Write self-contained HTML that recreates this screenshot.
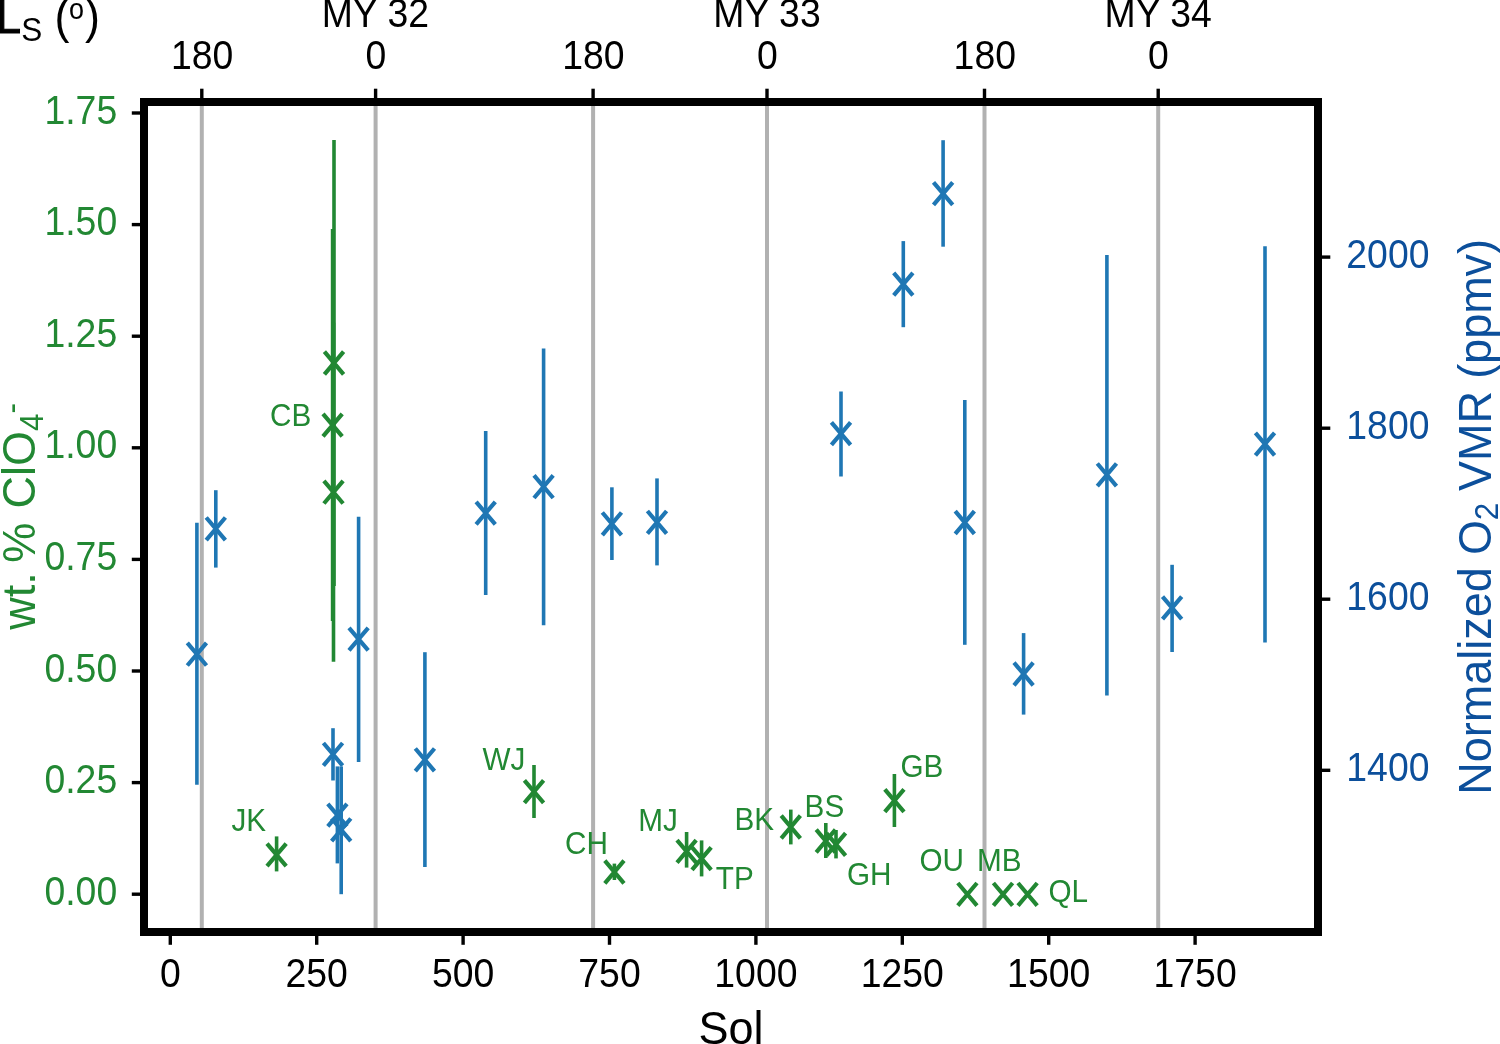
<!DOCTYPE html>
<html lang="en"><head><meta charset="utf-8"><title>Sol chart</title>
<style>html,body{margin:0;padding:0;background:#fff}body{width:1500px;height:1044px;overflow:hidden}svg{display:block}text{font-family:"Liberation Sans",sans-serif}</style></head><body>
<svg width="1500" height="1044" viewBox="0 0 1500 1044">
<rect width="1500" height="1044" fill="#fff"/>
<g stroke="#b1b1b1" stroke-width="4.0">
<line x1="201.8" y1="102.0" x2="201.8" y2="932.0"/>
<line x1="375.6" y1="102.0" x2="375.6" y2="932.0"/>
<line x1="593.1" y1="102.0" x2="593.1" y2="932.0"/>
<line x1="767.0" y1="102.0" x2="767.0" y2="932.0"/>
<line x1="984.5" y1="102.0" x2="984.5" y2="932.0"/>
<line x1="1158.2" y1="102.0" x2="1158.2" y2="932.0"/>
</g>
<g stroke="#228833" fill="none">
<line x1="334.0" y1="140.1" x2="334.0" y2="586.0" stroke-width="3.6"/><path d="M324.4 351.7L343.6 374.3M324.4 374.3L343.6 351.7" stroke-width="4.2"/>
<line x1="332.6" y1="229.0" x2="332.6" y2="621.0" stroke-width="3.6"/><path d="M323.0 413.8L342.2 436.4M323.0 436.4L342.2 413.8" stroke-width="4.2"/>
<line x1="333.5" y1="322.8" x2="333.5" y2="661.8" stroke-width="3.6"/><path d="M323.9 480.9L343.1 503.5M323.9 503.5L343.1 480.9" stroke-width="4.2"/>
<line x1="276.6" y1="836.4" x2="276.6" y2="871.4" stroke-width="3.6"/><path d="M267.0 843.6L286.2 866.2M267.0 866.2L286.2 843.6" stroke-width="4.2"/>
<line x1="534.0" y1="765.0" x2="534.0" y2="818.0" stroke-width="3.6"/><path d="M524.4 780.3L543.6 802.9M524.4 802.9L543.6 780.3" stroke-width="4.2"/>
<line x1="614.4" y1="863.6" x2="614.4" y2="880.0" stroke-width="3.6"/><path d="M604.8 860.7L624.0 883.3M604.8 883.3L624.0 860.7" stroke-width="4.2"/>
<line x1="686.6" y1="832.0" x2="686.6" y2="867.6" stroke-width="3.6"/><path d="M677.0 840.1L696.2 862.7M677.0 862.7L696.2 840.1" stroke-width="4.2"/>
<line x1="701.6" y1="840.4" x2="701.6" y2="876.4" stroke-width="3.6"/><path d="M692.0 847.3L711.2 869.9M692.0 869.9L711.2 847.3" stroke-width="4.2"/>
<line x1="790.8" y1="809.6" x2="790.8" y2="844.4" stroke-width="3.6"/><path d="M781.2 815.7L800.4 838.3M781.2 838.3L800.4 815.7" stroke-width="4.2"/>
<line x1="825.8" y1="823.0" x2="825.8" y2="858.0" stroke-width="3.6"/><path d="M816.2 829.7L835.4 852.3M816.2 852.3L835.4 829.7" stroke-width="4.2"/>
<line x1="836.0" y1="830.0" x2="836.0" y2="858.4" stroke-width="3.6"/><path d="M826.4 833.1L845.6 855.7M826.4 855.7L845.6 833.1" stroke-width="4.2"/>
<line x1="894.4" y1="774.0" x2="894.4" y2="827.0" stroke-width="3.6"/><path d="M884.8 789.3L904.0 811.9M884.8 811.9L904.0 789.3" stroke-width="4.2"/>
<path d="M957.8 883.0L977.0 905.6M957.8 905.6L977.0 883.0" stroke-width="4.2"/>
<path d="M993.4 883.0L1012.6 905.6M993.4 905.6L1012.6 883.0" stroke-width="4.2"/>
<path d="M1018.0 883.0L1037.2 905.6M1018.0 905.6L1037.2 883.0" stroke-width="4.2"/>
</g>
<g stroke="#1f77b4" fill="none">
<line x1="196.9" y1="522.8" x2="196.9" y2="784.8" stroke-width="3.6"/><path d="M187.3 642.9L206.5 665.5M187.3 665.5L206.5 642.9" stroke-width="4.2"/>
<line x1="215.8" y1="490.2" x2="215.8" y2="567.6" stroke-width="3.6"/><path d="M206.2 517.5L225.4 540.1M206.2 540.1L225.4 517.5" stroke-width="4.2"/>
<line x1="333.0" y1="728.2" x2="333.0" y2="780.5" stroke-width="3.6"/><path d="M323.4 743.0L342.6 765.6M323.4 765.6L342.6 743.0" stroke-width="4.2"/>
<line x1="337.4" y1="766.4" x2="337.4" y2="863.4" stroke-width="3.6"/><path d="M327.8 803.8L347.0 826.4M327.8 826.4L347.0 803.8" stroke-width="4.2"/>
<line x1="341.2" y1="766.4" x2="341.2" y2="894.2" stroke-width="3.6"/><path d="M331.6 818.5L350.8 841.1M331.6 841.1L350.8 818.5" stroke-width="4.2"/>
<line x1="358.6" y1="516.7" x2="358.6" y2="762.0" stroke-width="3.6"/><path d="M349.0 627.8L368.2 650.4M349.0 650.4L368.2 627.8" stroke-width="4.2"/>
<line x1="424.9" y1="652.2" x2="424.9" y2="867.0" stroke-width="3.6"/><path d="M415.3 748.5L434.5 771.1M415.3 771.1L434.5 748.5" stroke-width="4.2"/>
<line x1="485.7" y1="430.9" x2="485.7" y2="595.1" stroke-width="3.6"/><path d="M476.1 501.8L495.3 524.4M476.1 524.4L495.3 501.8" stroke-width="4.2"/>
<line x1="543.6" y1="348.4" x2="543.6" y2="625.3" stroke-width="3.6"/><path d="M534.0 475.4L553.2 498.0M534.0 498.0L553.2 475.4" stroke-width="4.2"/>
<line x1="611.9" y1="487.3" x2="611.9" y2="560.0" stroke-width="3.6"/><path d="M602.3 512.5L621.5 535.1M602.3 535.1L621.5 512.5" stroke-width="4.2"/>
<line x1="657.0" y1="478.4" x2="657.0" y2="565.4" stroke-width="3.6"/><path d="M647.4 511.0L666.6 533.6M647.4 533.6L666.6 511.0" stroke-width="4.2"/>
<line x1="841.0" y1="391.5" x2="841.0" y2="476.5" stroke-width="3.6"/><path d="M831.4 422.3L850.6 444.9M831.4 444.9L850.6 422.3" stroke-width="4.2"/>
<line x1="903.3" y1="241.1" x2="903.3" y2="327.2" stroke-width="3.6"/><path d="M893.7 272.8L912.9 295.4M893.7 295.4L912.9 272.8" stroke-width="4.2"/>
<line x1="943.1" y1="140.2" x2="943.1" y2="246.7" stroke-width="3.6"/><path d="M933.5 182.3L952.7 204.9M933.5 204.9L952.7 182.3" stroke-width="4.2"/>
<line x1="964.8" y1="400.0" x2="964.8" y2="644.8" stroke-width="3.6"/><path d="M955.2 511.2L974.4 533.8M955.2 533.8L974.4 511.2" stroke-width="4.2"/>
<line x1="1023.6" y1="633.1" x2="1023.6" y2="714.6" stroke-width="3.6"/><path d="M1014.0 662.7L1033.2 685.3M1014.0 685.3L1033.2 662.7" stroke-width="4.2"/>
<line x1="1106.9" y1="255.0" x2="1106.9" y2="695.6" stroke-width="3.6"/><path d="M1097.3 463.5L1116.5 486.1M1097.3 486.1L1116.5 463.5" stroke-width="4.2"/>
<line x1="1172.1" y1="564.8" x2="1172.1" y2="652.0" stroke-width="3.6"/><path d="M1162.5 596.6L1181.7 619.2M1162.5 619.2L1181.7 596.6" stroke-width="4.2"/>
<line x1="1265.0" y1="246.3" x2="1265.0" y2="642.4" stroke-width="3.6"/><path d="M1255.4 432.8L1274.6 455.4M1255.4 455.4L1274.6 432.8" stroke-width="4.2"/>
</g>
<rect x="144.0" y="102.0" width="1174.0" height="830.0" fill="none" stroke="#000" stroke-width="8.0"/>
<g stroke="#000" stroke-width="3.4">
<line x1="170.3" y1="932.0" x2="170.3" y2="944.8"/>
<line x1="316.7" y1="932.0" x2="316.7" y2="944.8"/>
<line x1="463.1" y1="932.0" x2="463.1" y2="944.8"/>
<line x1="609.5" y1="932.0" x2="609.5" y2="944.8"/>
<line x1="755.9" y1="932.0" x2="755.9" y2="944.8"/>
<line x1="902.3" y1="932.0" x2="902.3" y2="944.8"/>
<line x1="1048.7" y1="932.0" x2="1048.7" y2="944.8"/>
<line x1="1195.1" y1="932.0" x2="1195.1" y2="944.8"/>
<line x1="201.8" y1="102.0" x2="201.8" y2="88.7"/>
<line x1="375.6" y1="102.0" x2="375.6" y2="88.7"/>
<line x1="593.1" y1="102.0" x2="593.1" y2="88.7"/>
<line x1="767.0" y1="102.0" x2="767.0" y2="88.7"/>
<line x1="984.5" y1="102.0" x2="984.5" y2="88.7"/>
<line x1="1158.2" y1="102.0" x2="1158.2" y2="88.7"/>
<line x1="144.0" y1="894.2" x2="131.79999999999998" y2="894.2"/>
<line x1="144.0" y1="782.6" x2="131.79999999999998" y2="782.6"/>
<line x1="144.0" y1="671.0" x2="131.79999999999998" y2="671.0"/>
<line x1="144.0" y1="559.4" x2="131.79999999999998" y2="559.4"/>
<line x1="144.0" y1="447.8" x2="131.79999999999998" y2="447.8"/>
<line x1="144.0" y1="336.2" x2="131.79999999999998" y2="336.2"/>
<line x1="144.0" y1="224.6" x2="131.79999999999998" y2="224.6"/>
<line x1="144.0" y1="113.0" x2="131.79999999999998" y2="113.0"/>
<line x1="1318.0" y1="257.1" x2="1330.3" y2="257.1"/>
<line x1="1318.0" y1="428.2" x2="1330.3" y2="428.2"/>
<line x1="1318.0" y1="599.2" x2="1330.3" y2="599.2"/>
<line x1="1318.0" y1="770.3" x2="1330.3" y2="770.3"/>
</g>
<text transform="translate(170.3 986.5) scale(1 1.075)" font-size="37.4" fill="#000" text-anchor="middle">0</text>
<text transform="translate(316.7 986.5) scale(1 1.075)" font-size="37.4" fill="#000" text-anchor="middle">250</text>
<text transform="translate(463.1 986.5) scale(1 1.075)" font-size="37.4" fill="#000" text-anchor="middle">500</text>
<text transform="translate(609.5 986.5) scale(1 1.075)" font-size="37.4" fill="#000" text-anchor="middle">750</text>
<text transform="translate(755.9 986.5) scale(1 1.075)" font-size="37.4" fill="#000" text-anchor="middle">1000</text>
<text transform="translate(902.3 986.5) scale(1 1.075)" font-size="37.4" fill="#000" text-anchor="middle">1250</text>
<text transform="translate(1048.7 986.5) scale(1 1.075)" font-size="37.4" fill="#000" text-anchor="middle">1500</text>
<text transform="translate(1195.1 986.5) scale(1 1.075)" font-size="37.4" fill="#000" text-anchor="middle">1750</text>
<text transform="translate(202.1 68.6) scale(1 1.075)" font-size="37.4" fill="#000" text-anchor="middle">180</text>
<text transform="translate(375.9 68.6) scale(1 1.075)" font-size="37.4" fill="#000" text-anchor="middle">0</text>
<text transform="translate(593.4 68.6) scale(1 1.075)" font-size="37.4" fill="#000" text-anchor="middle">180</text>
<text transform="translate(767.3 68.6) scale(1 1.075)" font-size="37.4" fill="#000" text-anchor="middle">0</text>
<text transform="translate(984.8 68.6) scale(1 1.075)" font-size="37.4" fill="#000" text-anchor="middle">180</text>
<text transform="translate(1158.5 68.6) scale(1 1.075)" font-size="37.4" fill="#000" text-anchor="middle">0</text>
<text transform="translate(375.4 26.9) scale(1 1.075)" font-size="37.4" fill="#000" text-anchor="middle">MY 32</text>
<text transform="translate(767.0 26.9) scale(1 1.075)" font-size="37.4" fill="#000" text-anchor="middle">MY 33</text>
<text transform="translate(1158.2 26.9) scale(1 1.075)" font-size="37.4" fill="#000" text-anchor="middle">MY 34</text>
<text transform="translate(117.2 904.8) scale(1 1.075)" font-size="37.4" fill="#228833" text-anchor="end">0.00</text>
<text transform="translate(117.2 793.2) scale(1 1.075)" font-size="37.4" fill="#228833" text-anchor="end">0.25</text>
<text transform="translate(117.2 681.6) scale(1 1.075)" font-size="37.4" fill="#228833" text-anchor="end">0.50</text>
<text transform="translate(117.2 570.0) scale(1 1.075)" font-size="37.4" fill="#228833" text-anchor="end">0.75</text>
<text transform="translate(117.2 458.4) scale(1 1.075)" font-size="37.4" fill="#228833" text-anchor="end">1.00</text>
<text transform="translate(117.2 346.8) scale(1 1.075)" font-size="37.4" fill="#228833" text-anchor="end">1.25</text>
<text transform="translate(117.2 235.2) scale(1 1.075)" font-size="37.4" fill="#228833" text-anchor="end">1.50</text>
<text transform="translate(117.2 123.6) scale(1 1.075)" font-size="37.4" fill="#228833" text-anchor="end">1.75</text>
<text transform="translate(1346.3 268.0) scale(1 1.075)" font-size="37.4" fill="#0c4f9b" text-anchor="start">2000</text>
<text transform="translate(1346.3 439.1) scale(1 1.075)" font-size="37.4" fill="#0c4f9b" text-anchor="start">1800</text>
<text transform="translate(1346.3 610.1) scale(1 1.075)" font-size="37.4" fill="#0c4f9b" text-anchor="start">1600</text>
<text transform="translate(1346.3 781.2) scale(1 1.075)" font-size="37.4" fill="#0c4f9b" text-anchor="start">1400</text>
<text transform="translate(731.0 1044.4) scale(1 1.04)" font-size="45" fill="#000" text-anchor="middle">Sol</text>
<text transform="translate(-4.0 33.0) scale(1 1.075)" font-size="45" fill="#000" text-anchor="start"><tspan stroke="#000" stroke-width="1">L</tspan><tspan font-size="31.5" x="25.3" dy="7.3">S</tspan><tspan x="58.4" dy="-7.3" font-size="45">(</tspan><tspan font-size="27" x="72.9" dy="-13.3">o</tspan><tspan x="89.1" dy="13.3" font-size="45">)</tspan></text>
<text transform="translate(35.4 629.8) rotate(-90) scale(1 1.04)" font-size="45" fill="#228833" text-anchor="start" word-spacing="-0.8">wt.<tspan dx="-2.2"> %</tspan><tspan dx="2.6"> ClO</tspan><tspan font-size="31.5" dy="7.2">4</tspan><tspan font-size="31.5" dx="0" dy="-19.4">-</tspan></text>
<text transform="translate(1490.8 794.8) rotate(-90) scale(1 1.04)" font-size="45" fill="#0c4f9b" text-anchor="start" word-spacing="-0.3">Normalized O<tspan font-size="31.5" dy="7.2">2</tspan><tspan dx="-0.6" dy="-7.2" font-size="45"> VMR (ppmv)</tspan></text>
<text transform="translate(270.0 426.3) scale(1 1.05)" font-size="29.7" fill="#228833" text-anchor="start">CB</text>
<text transform="translate(231.5 830.5) scale(1 1.05)" font-size="29.7" fill="#228833" text-anchor="start">JK</text>
<text transform="translate(482.6 769.9) scale(1 1.05)" font-size="29.7" fill="#228833" text-anchor="start">WJ</text>
<text transform="translate(565.0 854.3) scale(1 1.05)" font-size="29.7" fill="#228833" text-anchor="start">CH</text>
<text transform="translate(638.2 830.9) scale(1 1.05)" font-size="29.7" fill="#228833" text-anchor="start">MJ</text>
<text transform="translate(715.8 888.8) scale(1 1.05)" font-size="29.7" fill="#228833" text-anchor="start">TP</text>
<text transform="translate(734.4 830.2) scale(1 1.05)" font-size="29.7" fill="#228833" text-anchor="start">BK</text>
<text transform="translate(804.6 816.8) scale(1 1.05)" font-size="29.7" fill="#228833" text-anchor="start">BS</text>
<text transform="translate(847.0 885.2) scale(1 1.05)" font-size="29.7" fill="#228833" text-anchor="start">GH</text>
<text transform="translate(900.4 777.2) scale(1 1.05)" font-size="29.7" fill="#228833" text-anchor="start">GB</text>
<text transform="translate(919.4 870.8) scale(1 1.05)" font-size="29.7" fill="#228833" text-anchor="start">OU</text>
<text transform="translate(977.0 870.5) scale(1 1.05)" font-size="29.7" fill="#228833" text-anchor="start">MB</text>
<text transform="translate(1048.4 901.8) scale(1 1.05)" font-size="29.7" fill="#228833" text-anchor="start">QL</text>
</svg></body></html>
